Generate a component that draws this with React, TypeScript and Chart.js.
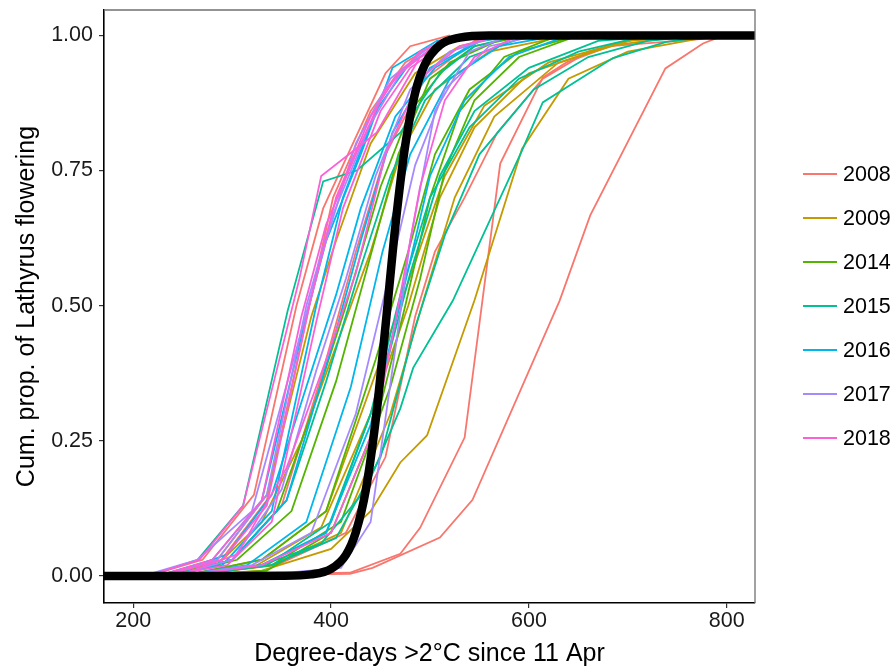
import React, { useEffect, useRef } from 'react';
import { Chart, registerables } from 'chart.js';

Chart.register(...registerables);

// ---- data ----
const years = ['2008', '2009', '2014', '2015', '2016', '2017', '2018'];
const yearColors = ['#F8766D', '#C49A00', '#53B400', '#00C094', '#00B6EB', '#A58AFF', '#FB61D7'];

const lines2008 = [
  [[260, 0], [419, 0.004], [442, 0.015], [510, 0.071], [543, 0.141], [631, 0.509], [662, 0.667], [738, 0.939], [776, 0.985], [797, 1]],
  [[250, 0], [419, 0.006], [470, 0.041], [490, 0.089], [535, 0.256], [571, 0.763], [614, 0.922], [638, 0.95], [682, 0.98], [773, 0.993], [797, 1]],
  [[215, 0], [270, 0.03], [322, 0.15], [365, 0.5], [392, 0.68], [422, 0.8], [455, 0.93], [480, 0.98], [520, 1]],
  [[225, 0], [285, 0.02], [335, 0.14], [378, 0.5], [402, 0.7], [440, 0.86], [475, 0.95], [520, 1]],
  [[250, 0], [345, 0.02], [415, 0.08], [455, 0.22], [485, 0.48], [505, 0.6], [535, 0.7], [568, 0.82], [614, 0.92], [660, 0.97], [720, 1]],
  [[240, 0], [300, 0.03], [350, 0.13], [392, 0.38], [425, 0.6], [455, 0.78], [495, 0.92], [545, 0.99], [600, 1]],
];
const lines2009 = [
  [[250, 0], [330, 0.01], [400, 0.05], [440, 0.12], [470, 0.21], [497, 0.26], [545, 0.51], [593, 0.79], [640, 0.92], [700, 0.97], [790, 1]],
  [[245, 0], [325, 0.02], [390, 0.09], [440, 0.3], [478, 0.5], [510, 0.7], [545, 0.83], [600, 0.93], [680, 0.98], [760, 1]],
  [[225, 0], [285, 0.03], [335, 0.15], [380, 0.48], [405, 0.62], [440, 0.8], [485, 0.93], [530, 0.98], [580, 1]],
  [[235, 0], [290, 0.03], [330, 0.1], [370, 0.25], [410, 0.45], [440, 0.6], [470, 0.78], [505, 0.9], [560, 0.97], [640, 1]],
  [[250, 0], [330, 0.03], [395, 0.12], [450, 0.4], [485, 0.58], [515, 0.74], [555, 0.87], [620, 0.95], [700, 0.99], [780, 1]],
  [[255, 0], [340, 0.02], [410, 0.08], [460, 0.3], [495, 0.52], [525, 0.7], [565, 0.85], [630, 0.95], [720, 1]],
];
const lines2014 = [
  [[240, 0], [305, 0.03], [360, 0.12], [405, 0.36], [438, 0.58], [468, 0.78], [500, 0.92], [545, 0.98], [600, 1]],
  [[250, 0], [335, 0.01], [400, 0.08], [445, 0.28], [475, 0.5], [500, 0.7], [530, 0.86], [575, 0.96], [630, 1]],
  [[255, 0], [340, 0.02], [410, 0.1], [460, 0.35], [490, 0.55], [515, 0.75], [545, 0.88], [590, 0.96], [650, 1]],
  [[235, 0], [300, 0.03], [345, 0.12], [380, 0.3], [415, 0.5], [450, 0.72], [480, 0.86], [520, 0.95], [580, 1]],
  [[250, 0], [330, 0.03], [395, 0.12], [445, 0.4], [478, 0.6], [505, 0.78], [540, 0.9], [590, 0.97], [650, 1]],
];
const lines2015 = [
  [[215, 0], [265, 0.03], [311, 0.13], [356, 0.49], [392, 0.73], [426, 0.75], [470, 0.82], [510, 0.93], [545, 0.98], [590, 1]],
  [[245, 0], [330, 0.02], [390, 0.06], [435, 0.16], [470, 0.31], [483, 0.385], [523, 0.509], [593, 0.787], [614, 0.876], [685, 0.958], [739, 0.988], [790, 1]],
  [[250, 0], [340, 0.02], [405, 0.07], [450, 0.22], [485, 0.46], [515, 0.63], [550, 0.78], [605, 0.9], [660, 0.96], [720, 0.99], [780, 1]],
  [[245, 0], [330, 0.02], [395, 0.08], [440, 0.3], [470, 0.52], [500, 0.7], [540, 0.83], [590, 0.92], [650, 0.97], [720, 1]],
  [[240, 0], [300, 0.03], [355, 0.14], [395, 0.36], [428, 0.56], [460, 0.74], [495, 0.88], [540, 0.96], [600, 1]],
  [[250, 0], [335, 0.02], [400, 0.1], [450, 0.35], [480, 0.56], [510, 0.74], [545, 0.86], [600, 0.94], [670, 0.99], [740, 1]],
];
const lines2016 = [
  [[225, 0], [280, 0.03], [330, 0.14], [372, 0.46], [395, 0.62], [430, 0.78], [462, 0.94], [507, 0.99], [550, 1]],
  [[230, 0], [290, 0.02], [340, 0.12], [385, 0.5], [412, 0.7], [445, 0.86], [480, 0.95], [530, 1]],
  [[235, 0], [295, 0.04], [340, 0.15], [375, 0.35], [405, 0.52], [430, 0.68], [465, 0.85], [505, 0.94], [560, 1]],
  [[240, 0], [300, 0.03], [355, 0.14], [400, 0.42], [430, 0.62], [462, 0.82], [500, 0.94], [550, 0.99], [600, 1]],
  [[245, 0], [315, 0.02], [375, 0.1], [420, 0.35], [452, 0.6], [480, 0.78], [520, 0.92], [570, 0.98], [630, 1]],
  [[255, 0], [330, 0.02], [395, 0.08], [440, 0.28], [472, 0.52], [500, 0.74], [535, 0.88], [580, 0.96], [640, 1]],
];
const lines2017 = [
  [[210, 0], [265, 0.03], [320, 0.12], [365, 0.42], [395, 0.62], [425, 0.8], [460, 0.92], [500, 0.98], [540, 1]],
  [[225, 0], [285, 0.03], [335, 0.15], [375, 0.5], [400, 0.66], [438, 0.83], [470, 0.93], [510, 0.99], [550, 1]],
  [[260, 0], [350, 0.005], [410, 0.015], [440, 0.1], [465, 0.42], [480, 0.62], [505, 0.86], [540, 0.97], [580, 1]],
  [[240, 0], [300, 0.03], [350, 0.16], [385, 0.38], [415, 0.55], [445, 0.74], [480, 0.9], [520, 0.97], [570, 1]],
  [[245, 0], [320, 0.02], [380, 0.08], [425, 0.3], [458, 0.55], [485, 0.76], [515, 0.9], [560, 0.98], [610, 1]],
];
const lines2018 = [
  [[215, 0], [267, 0.03], [311, 0.13], [368, 0.55], [390, 0.74], [446, 0.82], [490, 0.96], [530, 0.995], [580, 1]],
  [[225, 0], [280, 0.03], [330, 0.14], [370, 0.48], [395, 0.65], [425, 0.78], [455, 0.9], [490, 0.97], [530, 1]],
  [[230, 0], [290, 0.03], [335, 0.13], [378, 0.5], [405, 0.7], [440, 0.85], [468, 0.93], [505, 0.98], [545, 1]],
  [[235, 0], [295, 0.02], [340, 0.1], [385, 0.47], [412, 0.68], [450, 0.86], [480, 0.94], [520, 0.99], [560, 1]],
  [[245, 0], [305, 0.04], [355, 0.2], [395, 0.4], [425, 0.56], [455, 0.78], [490, 0.92], [530, 0.98], [570, 1]],
  [[250, 0], [330, 0.02], [400, 0.08], [445, 0.28], [470, 0.52], [490, 0.72], [515, 0.88], [545, 0.96], [590, 1]],
];
const linesByYear = [lines2008, lines2009, lines2014, lines2015, lines2016, lines2017, lines2018];

// fitted curve
const fitX = [170, 300, 350, 380, 400, 415, 425, 435, 445, 455, 465, 475, 485, 495, 510, 530, 560, 829];
const fitY = [0, 0, 0.0003, 0.003, 0.013, 0.039, 0.081, 0.158, 0.287, 0.462, 0.648, 0.797, 0.894, 0.947, 0.982, 0.996, 1, 1];

const xTicks = [200, 400, 600, 800];
const yTicks = [0, 0.25, 0.5, 0.75, 1];
const xTitle = 'Degree-days >2°C since 11 Apr';
const yTitle = 'Cum. prop. of Lathyrus flowering';

const FONT = '"Liberation Sans", Arial, sans-serif';

export default function App() {
  const ref = useRef<HTMLCanvasElement>(null);

  useEffect(() => {
    if (!ref.current) return;
    const datasets: any[] = [];
    datasets.push({
      data: fitX.map((x, i) => ({ x, y: fitY[i] })),
      borderColor: '#000000',
      borderWidth: 8.5,
      pointRadius: 0,
      showLine: true,
      cubicInterpolationMode: 'monotone',
      fill: false,
    });
    for (let yi = linesByYear.length - 1; yi >= 0; yi--) {
      const lines = linesByYear[yi];
      for (let li = lines.length - 1; li >= 0; li--) {
        datasets.push({
          data: lines[li].map(([x, y]) => ({ x, y })),
          borderColor: yearColors[yi],
          borderWidth: 1.8,
          pointRadius: 0,
          showLine: true,
          tension: 0,
          fill: false,
        });
      }
    }

    const framePlugin = {
      id: 'frameAndLegend',
      afterDraw(chart: any) {
        const { ctx, chartArea } = chart;
        ctx.save();
        ctx.strokeStyle = '#707070';
        ctx.lineWidth = 1.3;
        ctx.beginPath();
        ctx.moveTo(chartArea.left, chartArea.top);
        ctx.lineTo(chartArea.right, chartArea.top);
        ctx.lineTo(chartArea.right, chartArea.bottom);
        ctx.stroke();
        // legend
        const lx0 = 803, lx1 = 837, tx = 843, y0 = 174, gap = 44;
        ctx.font = `21.5px ${FONT}`;
        ctx.textBaseline = 'middle';
        ctx.textAlign = 'left';
        years.forEach((yr, i) => {
          const y = y0 + i * gap;
          ctx.strokeStyle = yearColors[i];
          ctx.lineWidth = 2;
          ctx.beginPath();
          ctx.moveTo(lx0, y);
          ctx.lineTo(lx1, y);
          ctx.stroke();
          ctx.fillStyle = '#000';
          ctx.fillText(yr, tx, y + 1);
        });
        ctx.restore();
      },
    };

    const chart = new Chart(ref.current, {
      type: 'scatter',
      data: { datasets },
      options: {
        animation: false,
        responsive: false,
        events: [],
        layout: { padding: { left: 0, right: 140, top: 10, bottom: 0 } },
        plugins: { legend: { display: false }, tooltip: { enabled: false } },
        scales: {
          x: {
            type: 'linear',
            min: 170.4,
            max: 828.6,
            afterBuildTicks: (s: any) => { s.ticks = xTicks.map((v) => ({ value: v })); },
            afterFit: (s: any) => { s.height = 67; s.paddingLeft = 0; s.paddingRight = 0; },
            grid: { drawOnChartArea: false, drawTicks: true, tickLength: 5, color: '#333', lineWidth: 1.2 },
            border: { display: true, color: '#000', width: 1.6 },
            ticks: { color: '#1a1a1a', font: { family: FONT, size: 21.5 }, padding: 0, maxRotation: 0, autoSkip: false },
            title: { display: true, text: xTitle, color: '#000', font: { family: FONT, size: 25 }, padding: { top: 0, bottom: 1 } },
          },
          y: {
            type: 'linear',
            min: -0.05,
            max: 1.047,
            afterBuildTicks: (s: any) => { s.ticks = yTicks.map((v) => ({ value: v })); },
            afterFit: (s: any) => { s.width = 104; s.paddingTop = 0; s.paddingBottom = 0; },
            grid: { drawOnChartArea: false, drawTicks: true, tickLength: 5, color: '#333', lineWidth: 1.2 },
            border: { display: true, color: '#000', width: 1.6 },
            ticks: { color: '#1a1a1a', font: { family: FONT, size: 21.5 }, padding: 6, callback: (v: any) => Number(v).toFixed(2) },
            title: { display: true, text: yTitle, color: '#000', font: { family: FONT, size: 25 }, padding: { top: 12, bottom: 0 } },
          },
        },
      },
      plugins: [framePlugin],
    });
    return () => chart.destroy();
  }, []);

  return (
    <div style={{ position: 'absolute', left: 0, top: 0, width: 895, height: 670, background: '#fff' }}>
      <canvas ref={ref} width={895} height={670} style={{ display: 'block' }} />
    </div>
  );
}
